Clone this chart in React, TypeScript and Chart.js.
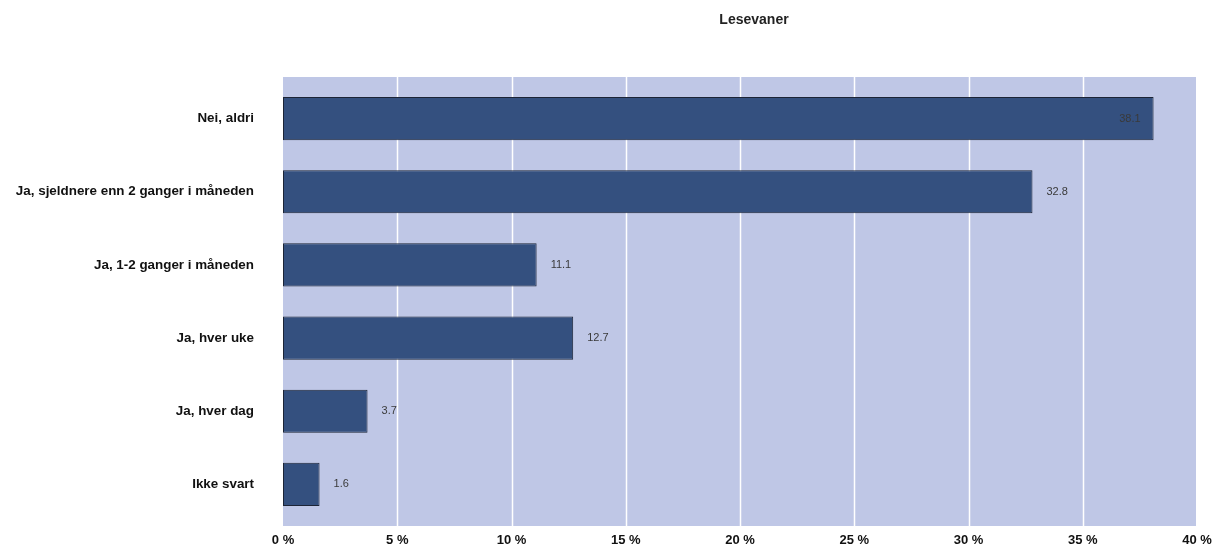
import React, { useEffect, useRef } from "react";
import { Chart, registerables } from "chart.js";

Chart.register(...registerables);

const TITLE = "Lesevaner";
const CATEGORIES = [
  "Nei, aldri",
  "Ja, sjeldnere enn 2 ganger i måneden",
  "Ja, 1-2 ganger i måneden",
  "Ja, hver uke",
  "Ja, hver dag",
  "Ikke svart",
];
const VALUES = [38.1, 32.8, 11.1, 12.7, 3.7, 1.6];
const X_MIN = 0;
const X_MAX = 40;
const X_STEP = 5;

const FONT = "'Liberation Sans', Arial, sans-serif";
const PLOT_BG = "#BFC7E6";
const BAR_FILL = "#34507F";
const BAR_BORDER = "#1C2436";

const bgPlugin = {
  id: "bgPlugin",
  beforeDatasetsDraw(chart: any) {
    const { ctx, chartArea } = chart;
    const ext = 5;
    ctx.save();
    ctx.fillStyle = PLOT_BG;
    ctx.fillRect(chartArea.left, chartArea.top - ext, chartArea.right - chartArea.left - 1, chartArea.bottom - chartArea.top + ext * 2);
    const xs = chart.scales.x;
    ctx.strokeStyle = "#FFFFFF";
    ctx.lineWidth = 1.5;
    xs.ticks.forEach((t: any) => {
      if (t.value <= X_MIN || t.value >= X_MAX) return;
      const px = Math.round(xs.getPixelForValue(t.value)) + 0.5;
      ctx.beginPath();
      ctx.moveTo(px, chartArea.top - ext);
      ctx.lineTo(px, chartArea.bottom + ext);
      ctx.stroke();
    });
    ctx.restore();
  },
};

const labelPlugin = {
  id: "labelPlugin",
  afterDatasetsDraw(chart: any) {
    const { ctx } = chart;
    const meta = chart.getDatasetMeta(0);
    const data = chart.data.datasets[0].data as number[];
    const max = Math.max(...data);
    ctx.save();
    ctx.font = `11px ${FONT}`;
    ctx.fillStyle = "#3A3A3A";
    ctx.textBaseline = "middle";
    meta.data.forEach((el: any, i: number) => {
      const v = data[i];
      const txt = v.toFixed(1);
      if (v >= max * 0.95) {
        ctx.textAlign = "right";
        ctx.fillText(txt, el.x - 13, el.y);
      } else {
        ctx.textAlign = "left";
        ctx.fillText(txt, el.x + 14, el.y);
      }
    });
    ctx.restore();
  },
};

const titlePlugin = {
  id: "titlePlugin",
  afterDraw(chart: any) {
    const { ctx } = chart;
    ctx.save();
    ctx.font = `bold 14px ${FONT}`;
    ctx.fillStyle = "#222222";
    ctx.textAlign = "center";
    ctx.textBaseline = "middle";
    ctx.fillText(TITLE, 754, 20);
    ctx.restore();
  },
};

export default function App() {
  const ref = useRef<HTMLCanvasElement | null>(null);

  useEffect(() => {
    document.body.style.margin = "0";
    if (!ref.current) return;
    const chart = new Chart(ref.current, {
      type: "bar",
      data: {
        labels: CATEGORIES,
        datasets: [
          {
            data: VALUES,
            backgroundColor: BAR_FILL,
            borderColor: BAR_BORDER,
            borderWidth: 1,
            borderSkipped: false,
            barPercentage: 0.59,
            categoryPercentage: 1,
          },
        ],
      },
      options: {
        indexAxis: "y",
        animation: false,
        responsive: false,
        events: [],
        layout: { padding: { top: 82, right: 21, bottom: 0, left: 0 } },
        plugins: {
          legend: { display: false },
          tooltip: { enabled: false },
          title: { display: false },
        },
        scales: {
          x: {
            type: "linear",
            min: X_MIN,
            max: X_MAX,
            grid: { display: false, drawTicks: false },
            border: { display: false },
            ticks: {
              stepSize: X_STEP,
              padding: 12,
              maxRotation: 0,
              color: "#111111",
              font: { family: FONT, size: 13, weight: "bold" },
              callback: (v: any) => `${v} %`,
            },
            afterFit(s: any) {
              s.height = 25;
              s.paddingLeft = 0;
              s.paddingRight = 0;
            },
          },
          y: {
            type: "category",
            grid: { display: false, drawTicks: false },
            border: { display: false },
            ticks: {
              padding: 29,
              color: "#111111",
              font: { family: FONT, size: 13.4, weight: "bold" },
            },
            afterFit(s: any) {
              s.width = 283;
              s.paddingTop = 0;
              s.paddingBottom = 0;
            },
          },
        },
      },
      plugins: [bgPlugin, labelPlugin, titlePlugin],
    });
    return () => chart.destroy();
  }, []);

  return (
    <div style={{ width: 1218, height: 546 }}>
      <canvas ref={ref} width={1218} height={546} style={{ display: "block" }} />
    </div>
  );
}
